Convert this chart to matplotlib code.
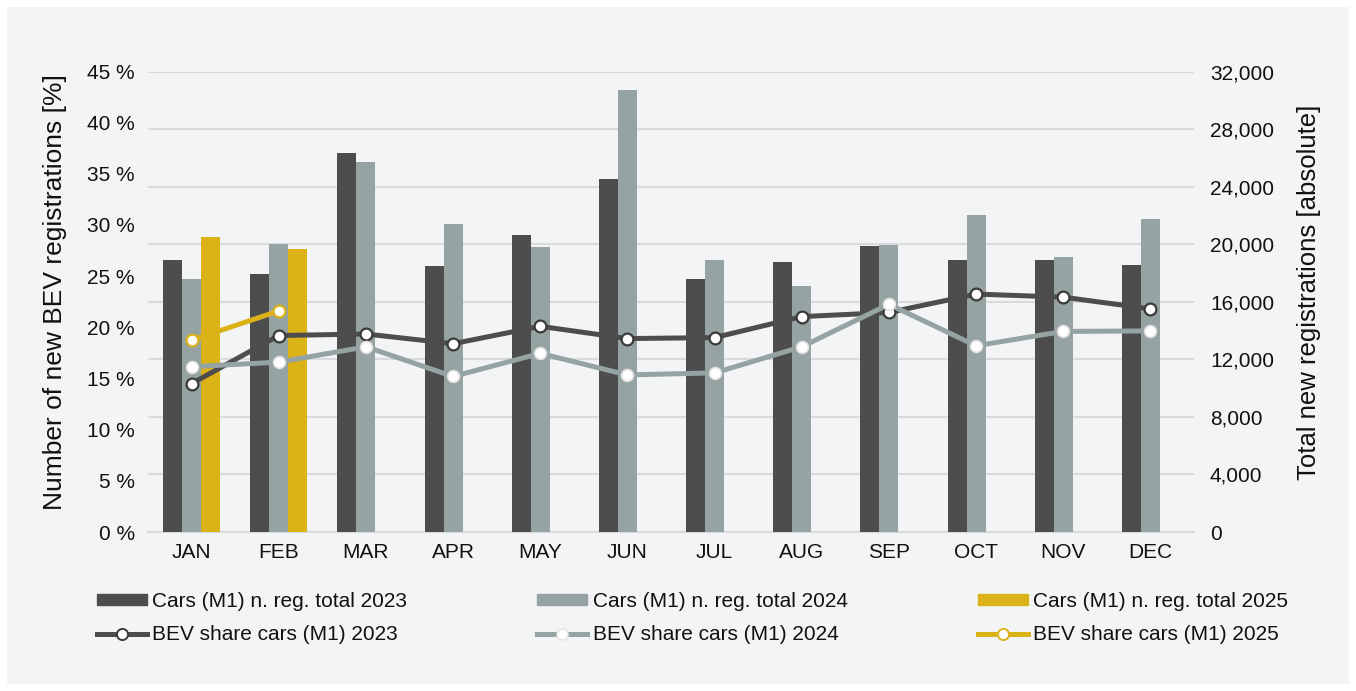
import matplotlib
matplotlib.use("Agg")
import matplotlib.pyplot as plt
import numpy as np
from matplotlib.patches import Rectangle
from matplotlib.lines import Line2D
from matplotlib.patches import Patch

plt.rcParams['font.family'] = ['Liberation Sans', 'DejaVu Sans']

months = ["JAN", "FEB", "MAR", "APR", "MAY", "JUN", "JUL", "AUG", "SEP", "OCT", "NOV", "DEC"]

# Total new registrations (absolute)
reg_2023 = [18900, 17930, 26320, 18510, 20660, 24530, 17580, 18780, 19850, 18880, 18920, 18530]
reg_2024 = [17580, 20030, 25730, 21380, 19830, 30740, 18900, 17100, 19920, 22010, 19110, 21730]
reg_2025 = [20480, 19670]

# BEV share (%)
share_2023 = [14.5, 19.2, 19.35, 18.4, 20.1, 18.9, 19.0, 21.05, 21.45, 23.25, 22.95, 21.8]
share_2024 = [16.15, 16.6, 18.1, 15.2, 17.45, 15.35, 15.55, 18.1, 22.25, 18.2, 19.6, 19.65]
share_2025 = [18.75, 21.6]

left_ticks = [0, 5, 10, 15, 20, 25, 30, 35, 40, 45]
right_ticks = [0, 4000, 8000, 12000, 16000, 20000, 24000, 28000, 32000]

c23 = "#4d4d4d"
c24 = "#95a3a3"
c25 = "#dbb319"
txt = "#111111"
grid_c = "#d9dadc"

W, H = 1356, 691
fig = plt.figure(figsize=(W / 100, H / 100), dpi=100)
fig.patch.set_facecolor("white")
fig.add_artist(Rectangle((7 / W, 7 / H), (W - 14) / W, (H - 14) / H,
                         transform=fig.transFigure, facecolor="#f3f4f6",
                         edgecolor="none", zorder=-10))

ax2 = fig.add_axes([148 / W, 1 - 532 / H, (1194 - 148) / W, (532 - 71.5) / H])
ax = ax2.twinx()
ax2.patch.set_visible(False)
ax.patch.set_visible(False)
ax2.yaxis.tick_right()
ax2.yaxis.set_label_position("right")
ax.yaxis.tick_left()
ax.yaxis.set_label_position("left")
ax.set_zorder(ax2.get_zorder() + 1)

x = np.arange(len(months))
bw = 0.218
ax2.bar(x - bw, reg_2023, bw, color=c23, zorder=3)
ax2.bar(x, reg_2024, bw, color=c24, zorder=3)
ax2.bar(x[:len(reg_2025)] + bw, reg_2025, bw, color=c25, zorder=3)

ms = 8.5
ax.plot(x, share_2023, color=c23, lw=3.6, marker="o", ms=ms, mfc="white",
        mec="#3a3a3a", mew=1.6, zorder=3)
ax.plot(x, share_2024, color=c24, lw=3.6, marker="o", ms=ms, mfc="white",
        mec="#e6e2e2", mew=1.2, zorder=4)
ax.plot(x[:len(share_2025)], share_2025, color=c25, lw=3.6, marker="o", ms=ms,
        mfc="white", mec=c25, mew=1.6, zorder=5)

ax.set_xlim(-0.5, 11.5)
ax2.set_xlim(-0.5, 11.5)
ax.set_ylim(0, 45)
ax2.set_ylim(0, 32000)

ax.set_yticks(left_ticks)
ax.set_yticklabels([f"{v} %" for v in left_ticks])
ax2.set_yticks(right_ticks)
ax2.set_yticklabels([f"{v:,}" for v in right_ticks])
ax2.set_xticks(x)
ax2.set_xticklabels(months)

ax2.grid(axis="y", color=grid_c, lw=1.5, zorder=0)
ax2.set_axisbelow(True)

for a in (ax, ax2):
    for s in a.spines.values():
        s.set_visible(False)
ax2.spines["bottom"].set_visible(True)
ax2.spines["bottom"].set_color(grid_c)
ax2.spines["bottom"].set_linewidth(1.5)

ax.tick_params(axis="y", length=0, pad=9.5, labelsize=15, labelcolor=txt)
ax2.tick_params(axis="y", length=0, pad=11.5, labelsize=15, labelcolor=txt)
ax2.tick_params(axis="x", length=0, pad=8, labelsize=15, labelcolor=txt)
ax.tick_params(axis="x", length=0, labelbottom=False)

ax.set_ylabel("Number of new BEV registrations [%]", fontsize=19, color=txt)
ax2.set_ylabel("Total new registrations [absolute]", fontsize=18.5, color=txt)
ax.yaxis.set_label_coords((67 - 148) / 1046, 0.52)
ax2.yaxis.set_label_coords((1297 - 148) / 1046, 0.52)

handles = [
    Patch(color=c23), Line2D([], [], color=c23, lw=3.6, marker="o", ms=8, mfc="white", mec="#3a3a3a", mew=1.4),
    Patch(color=c24), Line2D([], [], color=c24, lw=3.6, marker="o", ms=8, mfc="white", mec="#e6e2e2", mew=1.0),
    Patch(color=c25), Line2D([], [], color=c25, lw=3.6, marker="o", ms=8, mfc="white", mec=c25, mew=1.4),
]
labels = [
    "Cars (M1) n. reg. total 2023", "BEV share cars (M1) 2023",
    "Cars (M1) n. reg. total 2024", "BEV share cars (M1) 2024",
    "Cars (M1) n. reg. total 2025", "BEV share cars (M1) 2025",
]
leg = fig.legend(handles, labels, ncol=3, loc="upper left",
                 bbox_to_anchor=(97 / W, 1 - 592 / H), frameon=False,
                 fontsize=15, handlelength=2.4, handleheight=0.45,
                 handletextpad=0.25, columnspacing=6.25, labelspacing=0.68,
                 borderpad=0, borderaxespad=0)
for t in leg.get_texts():
    t.set_color(txt)

fig.savefig("out.png", dpi=100, facecolor=fig.get_facecolor())
